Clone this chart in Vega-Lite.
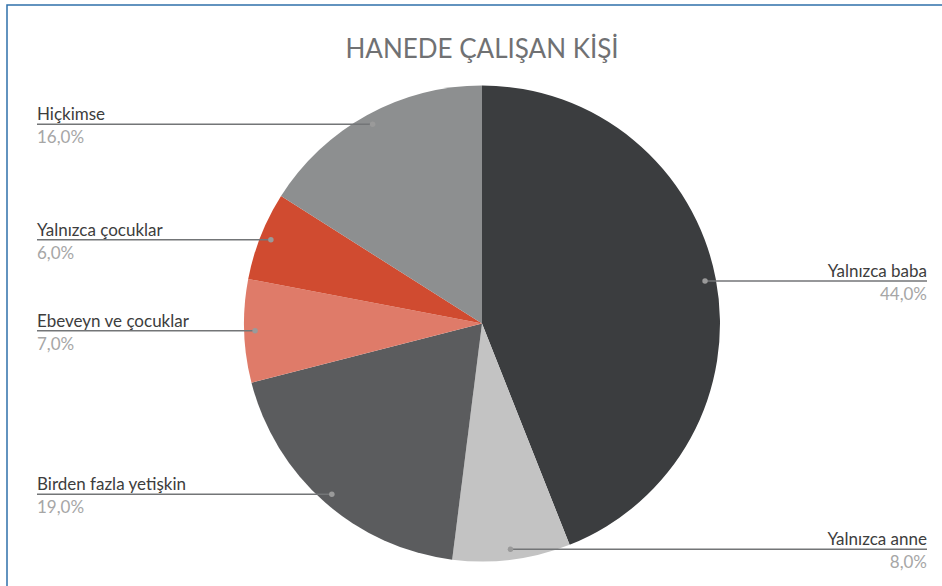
{
  "$schema": "https://vega.github.io/schema/vega-lite/v6.json",
  "autosize": {"type": "none"},
  "padding": {"left": 7, "top": 5, "right": 0, "bottom": 0},
  "width": 936,
  "height": 582,
  "background": "#ffffff",
  "title": {
    "text": "HANEDE ÇALIŞAN KİŞİ",
    "font": "Lato",
    "fontSize": 26,
    "fontWeight": "normal",
    "color": "#707173",
    "anchor": "middle",
    "dx": 7,
    "dy": 62
  },
  "config": {
    "view": {"stroke": "#2f70aa", "strokeWidth": 1.5},
    "font": "Lato"
  },
  "data": {
    "values": [
      {"name": "Yalnızca baba", "value": 44, "idx": 1, "etiket": "44,0%"},
      {"name": "Yalnızca anne", "value": 8, "idx": 2, "etiket": "8,0%"},
      {"name": "Birden fazla yetişkin", "value": 19, "idx": 3, "etiket": "19,0%"},
      {"name": "Ebeveyn ve çocuklar", "value": 7, "idx": 4, "etiket": "7,0%"},
      {"name": "Yalnızca çocuklar", "value": 6, "idx": 5, "etiket": "6,0%"},
      {"name": "Hiçkimse", "value": 16, "idx": 6, "etiket": "16,0%"}
    ]
  },
  "layer": [
    {
      "mark": {"type": "arc", "radius": 238},
      "encoding": {
        "x": {"datum": 0, "type": "quantitative", "scale": {"domain": [-1.9958, 1.9370], "nice": false, "zero": false}, "axis": null},
        "y": {"datum": 0, "type": "quantitative", "scale": {"domain": [-1.10504, 1.33613], "nice": false, "zero": false}, "axis": null},
        "theta": {"field": "value", "type": "quantitative", "stack": true},
        "order": {"field": "idx", "type": "quantitative"},
        "color": {
          "field": "name",
          "type": "nominal",
          "legend": null,
          "scale": {
            "domain": ["Yalnızca baba", "Yalnızca anne", "Birden fazla yetişkin", "Ebeveyn ve çocuklar", "Yalnızca çocuklar", "Hiçkimse"],
            "range": ["#3b3d3f", "#c3c3c3", "#5b5c5e", "#df7b69", "#d04b30", "#8d8f90"]
          }
        }
      }
    },
    {
      "transform": [
        {"stack": "value", "groupby": [], "sort": [{"field": "idx"}], "as": ["v0", "v1"]},
        {"calculate": "(datum.v0 + datum.v1) * PI / 100", "as": "a"},
        {"calculate": "0.954 * sin(datum.a)", "as": "px"},
        {"calculate": "0.954 * cos(datum.a)", "as": "py"},
        {"calculate": "datum.px < 0 ? -1.86975 : 1.86975", "as": "ex"}
      ],
      "layer": [
        {
          "mark": {"type": "rule", "color": "#737577", "strokeWidth": 1.5},
          "encoding": {
            "x": {"field": "px", "type": "quantitative", "scale": {"domain": [-1.9958, 1.9370], "nice": false, "zero": false}, "axis": null},
            "x2": {"field": "ex"},
            "y": {"field": "py", "type": "quantitative", "scale": {"domain": [-1.10504, 1.33613], "nice": false, "zero": false}, "axis": null}
          }
        },
        {
          "mark": {"type": "point", "filled": true, "size": 30, "color": "#9a9a9a", "opacity": 1},
          "encoding": {
            "x": {"field": "px", "type": "quantitative", "scale": {"domain": [-1.9958, 1.9370], "nice": false, "zero": false}, "axis": null},
            "y": {"field": "py", "type": "quantitative", "scale": {"domain": [-1.10504, 1.33613], "nice": false, "zero": false}, "axis": null}
          }
        },
        {
          "transform": [{"filter": "datum.px < 0"}],
          "layer": [
            {
              "mark": {"type": "text", "align": "left", "baseline": "alphabetic", "dy": -4, "fontSize": 17, "color": "#3d3d3d"},
              "encoding": {
                "x": {"field": "ex", "type": "quantitative", "scale": {"domain": [-1.9958, 1.9370], "nice": false, "zero": false}, "axis": null},
                "y": {"field": "py", "type": "quantitative", "scale": {"domain": [-1.10504, 1.33613], "nice": false, "zero": false}, "axis": null},
                "text": {"field": "name"}
              }
            },
            {
              "mark": {"type": "text", "align": "left", "baseline": "alphabetic", "dy": 19, "fontSize": 17, "color": "#a6a6a6"},
              "encoding": {
                "x": {"field": "ex", "type": "quantitative", "scale": {"domain": [-1.9958, 1.9370], "nice": false, "zero": false}, "axis": null},
                "y": {"field": "py", "type": "quantitative", "scale": {"domain": [-1.10504, 1.33613], "nice": false, "zero": false}, "axis": null},
                "text": {"field": "etiket"}
              }
            }
          ]
        },
        {
          "transform": [{"filter": "datum.px >= 0"}],
          "layer": [
            {
              "mark": {"type": "text", "align": "right", "baseline": "alphabetic", "dy": -4, "fontSize": 17, "color": "#3d3d3d"},
              "encoding": {
                "x": {"field": "ex", "type": "quantitative", "scale": {"domain": [-1.9958, 1.9370], "nice": false, "zero": false}, "axis": null},
                "y": {"field": "py", "type": "quantitative", "scale": {"domain": [-1.10504, 1.33613], "nice": false, "zero": false}, "axis": null},
                "text": {"field": "name"}
              }
            },
            {
              "mark": {"type": "text", "align": "right", "baseline": "alphabetic", "dy": 19, "fontSize": 17, "color": "#a6a6a6"},
              "encoding": {
                "x": {"field": "ex", "type": "quantitative", "scale": {"domain": [-1.9958, 1.9370], "nice": false, "zero": false}, "axis": null},
                "y": {"field": "py", "type": "quantitative", "scale": {"domain": [-1.10504, 1.33613], "nice": false, "zero": false}, "axis": null},
                "text": {"field": "etiket"}
              }
            }
          ]
        }
      ]
    }
  ]
}
